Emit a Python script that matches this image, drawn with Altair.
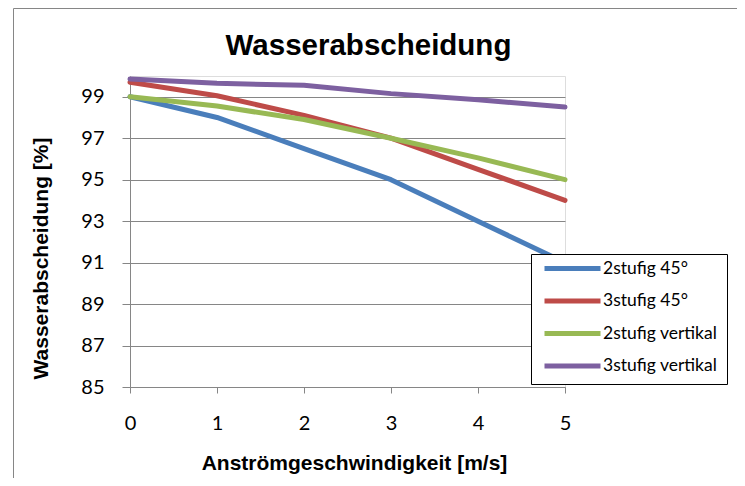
import altair as alt
import pandas as pd

speeds = [0, 1, 2, 3, 4, 5]
series_names = ["2stufig 45°", "3stufig 45°", "2stufig vertikal", "3stufig vertikal"]
s_2stufig_45 = [99.0, 98.0, 96.5, 95.0, 93.0, 91.0]
s_3stufig_45 = [99.7, 99.05, 98.1, 97.0, 95.5, 94.0]
s_2stufig_vert = [99.0, 98.55, 97.9, 97.0, 96.05, 95.0]
s_3stufig_vert = [99.85, 99.65, 99.55, 99.15, 98.85, 98.5]
colors = ["#4A7EBB", "#BE4B48", "#98B954", "#7D60A0"]
y_ticks = [85, 87, 89, 91, 93, 95, 97, 99]
x_ticks = [0, 1, 2, 3, 4, 5]

rows = []
for name, vals in zip(series_names, [s_2stufig_45, s_3stufig_45, s_2stufig_vert, s_3stufig_vert]):
    for x, v in zip(speeds, vals):
        rows.append({"speed": x, "value": v, "series": name})
df = pd.DataFrame(rows)

GRAY = "#868686"

border = alt.Chart(alt.Data(values=[{}])).mark_rect(
    fill=None, stroke=GRAY, strokeWidth=1
).encode(
    x=alt.value(-116.5), x2=alt.value(609.5), y=alt.value(-67.5), y2=alt.value(405)
)

title = alt.Chart(alt.Data(values=[{"t": "Wasserabscheidung"}])).mark_text(
    font="Liberation Sans", fontSize=29.5, fontWeight="bold", color="black",
    align="center", baseline="alphabetic"
).encode(
    x=alt.value(238.5), y=alt.value(-21), text="t:N"
)

lines = alt.Chart(df).mark_line(
    strokeWidth=5, strokeCap="round", strokeJoin="round"
).encode(
    x=alt.X("speed:Q",
            scale=alt.Scale(domain=[0, 5], nice=False, zero=False),
            axis=alt.Axis(values=x_ticks, grid=False, tickSize=6, tickColor=GRAY,
                          domainColor=GRAY, labelFont="Lato", labelFontSize=20,
                          labelColor="black", labelPadding=20, labelFlush=False,
                          title="Anströmgeschwindigkeit [m/s]", titleFont="Liberation Sans",
                          titleFontSize=21, titleFontWeight="bold", titleColor="black",
                          titleX=224, titleY=76, titleBaseline="middle", titleAlign="center")),
    y=alt.Y("value:Q",
            scale=alt.Scale(domain=[85, 100], nice=False, zero=False),
            axis=alt.Axis(values=y_ticks, grid=True, gridColor=GRAY, tickSize=8, tickColor=GRAY,
                          domainColor=GRAY, labelFont="Lato", labelFontSize=20,
                          labelColor="black", labelPadding=18,
                          title="Wasserabscheidung [%]", titleFont="Liberation Sans",
                          titleFontSize=21, titleFontWeight="bold", titleColor="black",
                          titleAngle=270, titleX=-89, titleY=182,
                          titleBaseline="middle", titleAlign="center")),
    color=alt.Color("series:N",
                    scale=alt.Scale(domain=series_names, range=colors),
                    sort=series_names,
                    legend=alt.Legend(orient="none", legendX=401, legendY=178, title=None,
                                      padding=9, strokeColor="black", fillColor="white",
                                      symbolType="stroke", symbolSize=3136, symbolOffset=2,
                                      symbolStrokeWidth=5, clipHeight=11, rowPadding=14.5,
                                      labelFont="Lato", labelFontSize=17.5, labelColor="black",
                                      labelOffset=0, labelLimit=300)),
)

chart = alt.layer(border, title, lines).properties(
    width=435, height=311,
    autosize=alt.AutoSizeParams(type="none"),
    padding={"left": 122, "top": 68, "right": 172, "bottom": 91},
).configure_view(stroke=None).configure(background="white")

chart.save("out.html", embed_options={"renderer": "svg", "actions": False})
